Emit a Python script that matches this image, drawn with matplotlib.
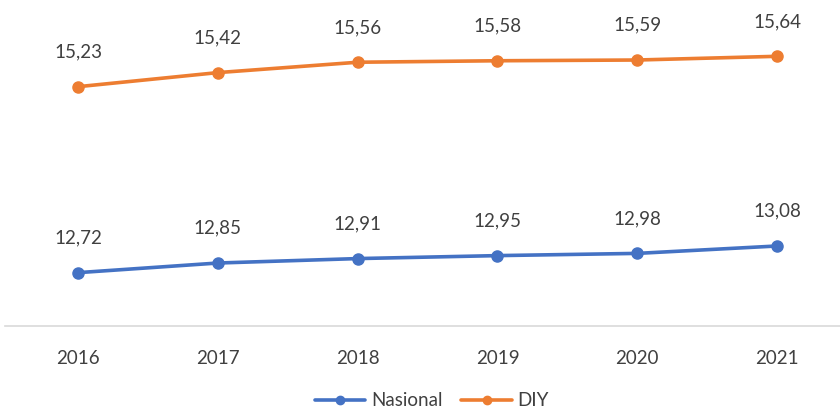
import matplotlib
matplotlib.use("Agg")
import matplotlib.pyplot as plt

years = ["2016", "2017", "2018", "2019", "2020", "2021"]
nasional = [12.72, 12.85, 12.91, 12.95, 12.98, 13.08]
diy = [15.23, 15.42, 15.56, 15.58, 15.59, 15.64]
series_names = ["Nasional", "DIY"]

plt.rcParams['font.family'] = ['Lato', 'DejaVu Sans']

fig = plt.figure(figsize=(8.4, 4.12), dpi=100)
ax = fig.add_axes([5/840, 1 - 326/412, 835/840, 326/412])

x = list(range(len(years)))
blue = "#4472C4"
orange = "#ED7D31"
ax.plot(x, nasional, color=blue, lw=2.6, marker='o', ms=8, label=series_names[0], solid_capstyle='round')
ax.plot(x, diy, color=orange, lw=2.6, marker='o', ms=8, label=series_names[1], solid_capstyle='round')

for vals in (nasional, diy):
    for xi, v in zip(x, vals):
        ax.annotate(f"{v:.2f}".replace('.', ','), (xi, v), xytext=(0, 25), textcoords='offset points',
                    ha='center', va='center', fontsize=13.5, color='#404040')

ax.set_xlim(-0.522, 5.45)
ax.set_ylim(12.0, 16.4)
ax.set_yticks([])
ax.set_xticks(x)
ax.set_xticklabels(years, fontsize=13.5, color='#404040')
ax.tick_params(axis='x', length=0, pad=17)
for s in ['top', 'right', 'left']:
    ax.spines[s].set_visible(False)
ax.spines['bottom'].set_color('#D9D9D9')
ax.spines['bottom'].set_linewidth(1.2)

leg = fig.legend(loc='center', bbox_to_anchor=(432/840, 1 - 401/412), ncol=2, frameon=False,
                 fontsize=13.5, handlelength=2.7, columnspacing=1.0, handletextpad=0.3, markerscale=0.75)
for t in leg.get_texts():
    t.set_color('#404040')

fig.savefig("out.png", dpi=100)
